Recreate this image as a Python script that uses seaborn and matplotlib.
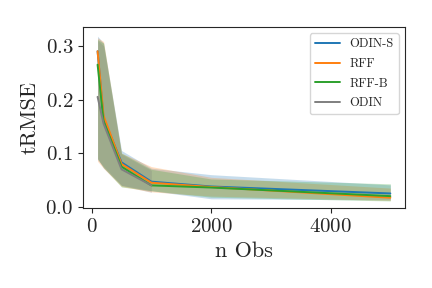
import numpy as np
import pandas as pd
import matplotlib
matplotlib.use("Agg")
import matplotlib.pyplot as plt
import seaborn as sns

sns.set_style('ticks')
plt.rcParams['font.family'] = ['cmr10', 'DejaVu Serif']
plt.rcParams['mathtext.fontset'] = 'cm'
plt.rcParams['axes.formatter.use_mathtext'] = True
plt.rcParams['axes.unicode_minus'] = False

# mean tRMSE per method, with lower/upper band edges
n_obs = [100, 200, 500, 1000, 2000, 5000]

odin_s = [0.290, 0.165, 0.083, 0.047, 0.038, 0.025]
odin_s_lo = [0.088, 0.075, 0.040, 0.030, 0.015, 0.013]
odin_s_hi = [0.318, 0.305, 0.105, 0.072, 0.060, 0.041]

rff = [0.290, 0.170, 0.080, 0.045, 0.037, 0.017]
rff_lo = [0.085, 0.072, 0.038, 0.028, 0.020, 0.012]
rff_hi = [0.315, 0.308, 0.100, 0.075, 0.055, 0.035]

rff_b = [0.265, 0.160, 0.075, 0.040, 0.036, 0.020]
rff_b_lo = [0.090, 0.073, 0.037, 0.030, 0.018, 0.011]
rff_b_hi = [0.312, 0.305, 0.100, 0.070, 0.052, 0.043]

odin_obs = [100, 200, 500, 1000]
odin = [0.205, 0.155, 0.070, 0.040]
odin_lo = [0.090, 0.072, 0.040, 0.027]
odin_hi = [0.310, 0.300, 0.098, 0.068]

methods = ['ODIN-S', 'RFF', 'RFF-B', 'ODIN']
colors = ['#1f77b4', '#ff7f0e', '#2ca02c', '#7f7f7f']
series = [
    (n_obs, odin_s, odin_s_lo, odin_s_hi),
    (n_obs, rff, rff_lo, rff_hi),
    (n_obs, rff_b, rff_b_lo, rff_b_hi),
    (odin_obs, odin, odin_lo, odin_hi),
]

frames = []
for name, (xs, m, lo, hi) in zip(methods, series):
    frames.append(pd.DataFrame({'n Obs': xs, 'tRMSE': m, 'lo': lo, 'hi': hi, 'method': name}))
df = pd.concat(frames, ignore_index=True)

fig, ax = plt.subplots(figsize=(4.32, 2.88), dpi=100)
sns.lineplot(data=df, x='n Obs', y='tRMSE', hue='method', hue_order=methods,
             palette=colors, ax=ax, linewidth=1.4)
for name, c in zip(methods, colors):
    d = df[df['method'] == name]
    ax.fill_between(d['n Obs'], d['lo'], d['hi'], color=c, alpha=0.25, linewidth=0)

ax.set_xlabel('n Obs', fontsize=16)
ax.set_ylabel('tRMSE', fontsize=16)
ax.tick_params(labelsize=15)
ax.set_xlim(-145, 5245)
ax.set_ylim(-0.002, 0.335)
ax.set_yticks([0.0, 0.1, 0.2, 0.3])
ax.set_xticks([0, 2000, 4000])
ax.legend(loc='upper right', fontsize=9, labelspacing=0.6, frameon=True, fancybox=True)

fig.subplots_adjust(left=0.192, right=0.9375, bottom=0.278, top=0.906)
fig.savefig('out.png', dpi=100)
